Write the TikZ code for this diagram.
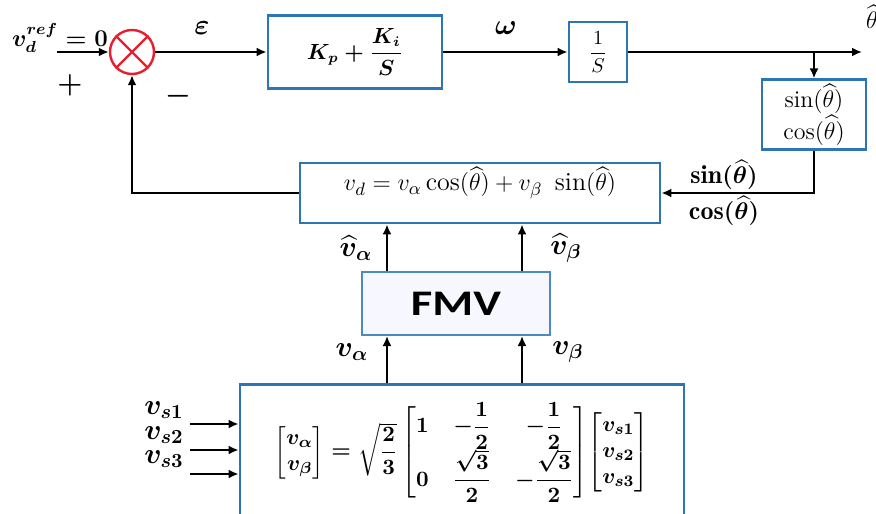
\documentclass[tikz,border=0pt]{standalone}
\usepackage{amsmath}
\usepackage{fontspec}
\newfontfamily\fmvfont{Carlito}
\usetikzlibrary{arrows.meta, positioning}
\definecolor{boxblue}{RGB}{46, 117, 182}
\definecolor{sumred}{RGB}{232, 30, 45}

\begin{document}
\begin{tikzpicture}[
  x=0.5pt, y=-0.5pt,
  every node/.style={font=\boldmath},
  box/.style={rectangle, draw=boxblue, line width=1.4pt, fill=white, text centered, inner sep=2pt},
  arrow/.style={-{Latex[length=5pt, width=4.5pt]}, line width=1pt, color=black},
  label/.style={font=\boldmath\Large},
  plain/.style={font=\unboldmath},
]
  \useasboundingbox (0,0) rectangle (876,513);

  % forward path
  \node[circle, draw=sumred, line width=1.2pt, minimum size=22pt, inner sep=0pt, fill=white] (sum) at (132,52) {};
  \draw[sumred, line width=1.2pt] (sum.45) -- (sum.225) (sum.135) -- (sum.315);
  \node[box, minimum width=87pt, minimum height=36.5pt, font=\boldmath\fontsize{10.5}{13}\selectfont] (pi) at (355,52) {$K_p+\dfrac{K_i}{S}$};
  \node[box, plain, minimum width=29pt, minimum height=30pt] (integ) at (598,52) {$\dfrac{1}{S}$};
  \node[box, minimum width=52pt, minimum height=31.5pt, align=center, font=\unboldmath\large] (trig) at (814,114.5) {$\sin(\widehat{\theta})$\\$\cos(\widehat{\theta})$};

  \coordinate (refin) at (57,52);
  \coordinate (out) at (862,52);
  \coordinate (br) at (trig.north |- integ.east);
  \node[label, font=\boldmath\large] (vref) at (60,38) {$v_d^{ref}=0$};
  \node[label] (plus) at (70,85) {$+$};
  \node[label] (minus) at (178,96) {$-$};
  \node[label] (eps) at (202,28) {$\varepsilon$};
  \node[label] (omega) at (506,28) {$\omega$};
  \node[plain, font=\large] (thout) at (872,17) {$\widehat{\theta}$};

  \draw[arrow] (refin) -- (sum.west);
  \draw[arrow] (sum.east) -- (pi.west);
  \draw[arrow] (pi.east) -- (integ.west);
  \draw[arrow] (integ.east) -- (out);
  \draw[arrow] (br) -- (trig.north);

  % feedback
  \node[box, minimum width=180pt, minimum height=30pt, text depth=14pt, font=\unboldmath\fontsize{13}{15}\selectfont] (vd) at (480,193) {$v_d = v_\alpha\cos(\widehat{\theta})+v_\beta\ \sin(\widehat{\theta})$};
  \draw[arrow] (trig.south) |- (vd.east);
  \node[label, font=\boldmath\fontsize{13}{15}\selectfont] (sinlab) at (724,175) {$\sin(\widehat{\theta})$};
  \node[label, font=\boldmath\fontsize{13}{15}\selectfont] (coslab) at (724,211) {$\cos(\widehat{\theta})$};
  \draw[arrow] (vd.west) -| (sum.south);

  % observer and transform
  \node[box, draw=boxblue!85, line width=1pt, fill=blue!3, minimum width=94pt, minimum height=31.5pt] (fmv) at (456,303.5) {\scalebox{1.3}[1]{\fmvfont\bfseries\fontsize{18}{21}\selectfont FMV}};
  \node[box, anchor=north, minimum width=222pt, minimum height=68pt, font=\boldmath\fontsize{11}{13}\selectfont\setlength\arraycolsep{6pt}] (mat) at (462,383) {$\begin{bmatrix} v_\alpha\\ v_\beta\end{bmatrix} = \sqrt{\dfrac{2}{3}}\begin{bmatrix}1 & -\dfrac{1}{2} & -\dfrac{1}{2}\\[0pt] 0 & \dfrac{\sqrt{3}}{2} & -\dfrac{\sqrt{3}}{2}\end{bmatrix}\!\begin{bmatrix}v_{s1}\\ v_{s2}\\ v_{s3}\end{bmatrix}$};

  \coordinate (xa) at (387,0);
  \coordinate (xb) at (522,0);
  \draw[arrow] (fmv.north -| xa) -- (vd.south -| xa);
  \draw[arrow] (fmv.north -| xb) -- (vd.south -| xb);
  \draw[arrow] (mat.north -| xa) -- (fmv.south -| xa);
  \draw[arrow] (mat.north -| xb) -- (fmv.south -| xb);
  \node[label] (vahat) at (356,248) {$\widehat{v}_\alpha$};
  \node[label] (vbhat) at (566,248) {$\widehat{v}_\beta$};
  \node[label] (va) at (352,352) {$v_\alpha$};
  \node[label] (vb) at (568,352) {$v_\beta$};

  % phase voltage inputs
  \foreach \k/\y in {1/424, 2/450, 3/474} {
    \coordinate (in\k) at (190,\y);
    \draw[arrow] (in\k) -- (in\k -| mat.west);
  }
  \node[label] (vs1) at (164,410) {$v_{s1}$};
  \node[label] (vs2) at (164,435) {$v_{s2}$};
  \node[label] (vs3) at (164,459) {$v_{s3}$};
\end{tikzpicture}
\end{document}
